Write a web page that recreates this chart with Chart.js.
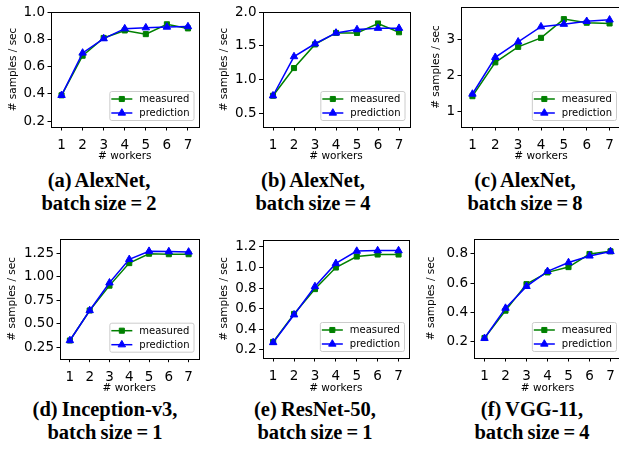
<!DOCTYPE html>
<html>
<head>
<meta charset="utf-8">
<title>Throughput vs workers</title>
<script src="https://cdn.jsdelivr.net/npm/chart.js@4.4.0/dist/chart.umd.min.js"></script>
<style>
  html, body { margin: 0; padding: 0; background: #fff; }
  body { width: 619px; height: 455px; position: relative; overflow: hidden; }
  canvas { position: absolute; }
  .caption {
    position: absolute; width: 230px; text-align: center;
    font-family: "Liberation Serif", "DejaVu Serif", serif; font-weight: bold;
    font-size: 20.5px; line-height: 23px; word-spacing: -1px; color: #000;
  }
</style>
</head>
<body>
<div class="caption" style="left:-16px; top:169px">(a) AlexNet,<br>batch size = 2</div>
<div class="caption" style="left:198px; top:169px">(b) AlexNet,<br>batch size = 4</div>
<div class="caption" style="left:410px; top:169px">(c) AlexNet,<br>batch size = 8</div>
<div class="caption" style="left:-10px; top:398px">(d) Inception-v3,<br>batch size = 1</div>
<div class="caption" style="left:200px; top:398px">(e) ResNet-50,<br>batch size = 1</div>
<div class="caption" style="left:417px; top:398px">(f) VGG-11,<br>batch size = 4</div>

<script>
// shared x values
const workers = [1, 2, 3, 4, 5, 6, 7];

// (a) AlexNet, batch size 2
const alexnet2Measured   = [0.39, 0.68, 0.81, 0.865, 0.838, 0.91, 0.88];
const alexnet2Prediction = [0.39, 0.70, 0.805, 0.878, 0.885, 0.89, 0.893];
const alexnet2Ticks      = ["0.2", "0.4", "0.6", "0.8", "1.0"];

// (b) AlexNet, batch size 4
const alexnet4Measured   = [0.76, 1.17, 1.52, 1.69, 1.69, 1.83, 1.70];
const alexnet4Prediction = [0.76, 1.34, 1.53, 1.69, 1.74, 1.76, 1.76];
const alexnet4Ticks      = ["0.5", "1.0", "1.5", "2.0"];

// (c) AlexNet, batch size 8
const alexnet8Measured   = [1.42, 2.36, 2.79, 3.04, 3.56, 3.46, 3.44];
const alexnet8Prediction = [1.48, 2.50, 2.93, 3.35, 3.42, 3.50, 3.54];
const alexnet8Ticks      = ["1", "2", "3"];

// (d) Inception-v3, batch size 1
const inceptionMeasured   = [0.32, 0.64, 0.905, 1.145, 1.245, 1.24, 1.24];
const inceptionPrediction = [0.32, 0.64, 0.935, 1.185, 1.272, 1.268, 1.264];
const inceptionTicks      = ["0.25", "0.50", "0.75", "1.00", "1.25"];

// (e) ResNet-50, batch size 1
const resnetMeasured   = [0.275, 0.548, 0.79, 1.0, 1.107, 1.127, 1.127];
const resnetPrediction = [0.27, 0.54, 0.815, 1.04, 1.16, 1.165, 1.165];
const resnetTicks      = ["0.2", "0.4", "0.6", "0.8", "1.0", "1.2"];

// (f) VGG-11, batch size 4
const vggMeasured   = [0.227, 0.413, 0.593, 0.673, 0.709, 0.798, 0.816];
const vggPrediction = [0.225, 0.43, 0.578, 0.68, 0.74, 0.785, 0.815];
const vggTicks      = ["0.2", "0.4", "0.6", "0.8"];

// canvas box [x, y, w, h] and plot area [left, top, right, bottom], page px
const panels = [
  { m: alexnet2Measured, p: alexnet2Prediction, ticks: alexnet2Ticks, y: [0.158, 1.0], x: [0.5, 7.5],
    box: [0, -6, 205, 169], plot: [51, 12, 198.5, 127], ylab: 13 },
  { m: alexnet4Measured, p: alexnet4Prediction, ticks: alexnet4Ticks, y: [0.297, 2.0], x: [0.5, 7.5],
    box: [205, -6, 210, 169], plot: [262.5, 12, 409.5, 127], ylab: 19.3 },
  { m: alexnet8Measured, p: alexnet8Prediction, ticks: alexnet8Ticks, y: [0.564, 3.897], x: [0.5, 7.5],
    box: [415, -6, 215, 169], plot: [461, 7, 621, 127], ylab: 21.7 },
  { m: inceptionMeasured, p: inceptionPrediction, ticks: inceptionTicks, y: [0.126, 1.402], x: [0.5, 7.5],
    box: [0, 222, 205, 173], plot: [60, 239, 198.5, 358.7], ylab: 12.7 },
  { m: resnetMeasured, p: resnetPrediction, ticks: resnetTicks, y: [0.119, 1.271], x: [0.5, 7.5],
    box: [205, 222, 210, 173], plot: [262.7, 239.7, 409, 358], ylab: 19.3 },
  { m: vggMeasured, p: vggPrediction, ticks: vggTicks, y: [0.091, 0.902], x: [0.5, 7.5],
    box: [410, 222, 220, 173], plot: [474, 238.7, 621, 358], ylab: 21.7 },
];

const FONT = '"DejaVu Sans", sans-serif';

// matplotlib-like frame plus a legend sitting inside the lower right corner
const frameAndLegend = {
  id: 'frameAndLegend',
  afterDatasetsDraw(chart) {
    const { ctx, chartArea: a } = chart;
    ctx.save();
    ctx.strokeStyle = '#000';
    ctx.lineWidth = 1;
    ctx.strokeRect(Math.round(a.left) + 0.5, Math.round(a.top) + 0.5,
                   Math.round(a.right - a.left), Math.round(a.bottom - a.top));

    ctx.font = '10px ' + FONT;
    const sets = chart.data.datasets;
    const textW = Math.max(...sets.map(d => ctx.measureText(d.label).width));
    const w = 30 + textW + 4, h = 29;
    const x = a.right - 5 - w, y = a.bottom - 7 - h;
    ctx.beginPath();
    if (ctx.roundRect) ctx.roundRect(x + 0.5, y + 0.5, w, h, 2); else ctx.rect(x + 0.5, y + 0.5, w, h);
    ctx.fillStyle = 'rgba(255,255,255,0.8)';
    ctx.fill();
    ctx.strokeStyle = '#cccccc';
    ctx.stroke();

    sets.forEach((d, i) => {
      const cy = y + 8 + i * 14;
      ctx.strokeStyle = d.borderColor;
      ctx.lineWidth = d.borderWidth;
      ctx.beginPath();
      ctx.moveTo(x + 2, cy);
      ctx.lineTo(x + 23, cy);
      ctx.stroke();
      ctx.fillStyle = d.pointBackgroundColor;
      ctx.lineWidth = 1;
      Chart.helpers.drawPoint(ctx, { pointStyle: d.pointStyle, radius: d.pointRadius, borderWidth: 1, rotation: 0 }, x + 12.5, cy);
      ctx.fillStyle = '#000';
      ctx.textBaseline = 'middle';
      ctx.textAlign = 'left';
      ctx.fillText(d.label, x + 30, cy + 0.5);
    });
    ctx.restore();
  }
};

panels.forEach(pn => {
  const [bx, by, bw, bh] = pn.box;
  const [pl, pt, pr, pb] = pn.plot;
  const cv = document.createElement('canvas');
  cv.width = bw;
  cv.height = bh;
  cv.style.left = bx + 'px';
  cv.style.top = by + 'px';
  document.body.appendChild(cv);

  const tickVals = pn.ticks.map(Number);

  new Chart(cv, {
    type: 'line',
    data: {
      datasets: [
        {
          label: 'measured',
          data: workers.map((w, i) => ({ x: w, y: pn.m[i] })),
          borderColor: '#008000',
          backgroundColor: '#008000',
          pointBackgroundColor: '#008000',
          pointBorderColor: '#008000',
          borderWidth: 1.5,
          pointStyle: 'rect',
          pointRadius: 3.6,
          pointBorderWidth: 1,
          order: 1,
        },
        {
          label: 'prediction',
          data: workers.map((w, i) => ({ x: w, y: pn.p[i] })),
          borderColor: '#0000ff',
          backgroundColor: '#0000ff',
          pointBackgroundColor: '#0000ff',
          pointBorderColor: '#0000ff',
          borderWidth: 1.5,
          pointStyle: 'triangle',
          pointRadius: 4.3,
          pointBorderWidth: 1,
          order: 0,
        },
      ],
    },
    options: {
      responsive: false,
      animation: false,
      devicePixelRatio: 1,
      layout: { padding: { top: pt - by, right: bx + bw - pr, left: 0, bottom: 0 } },
      plugins: { legend: { display: false }, tooltip: { enabled: false } },
      scales: {
        x: {
          type: 'linear',
          min: pn.x[0],
          max: pn.x[1],
          afterBuildTicks: s => { s.ticks = workers.map(v => ({ value: v })); },
          afterFit: s => { s.height = by + bh - pb; },
          border: { display: false },
          grid: { drawOnChartArea: false, tickLength: 3.5, tickColor: '#000', tickWidth: 1 },
          ticks: { autoSkip: false, maxRotation: 0, padding: 7, color: '#000',
                   font: { family: FONT, size: 13.5 }, callback: v => String(v) },
          title: { display: true, text: '# workers', color: '#000',
                   font: { family: FONT, size: 10.5 }, padding: { top: 0, bottom: 0 } },
        },
        y: {
          min: pn.y[0],
          max: pn.y[1],
          afterBuildTicks: s => { s.ticks = tickVals.map(v => ({ value: v })); },
          afterFit: s => { s.width = pl - bx; },
          border: { display: false },
          grid: { drawOnChartArea: false, tickLength: 3.5, tickColor: '#000', tickWidth: 1 },
          ticks: { padding: 2.5, color: '#000', font: { family: FONT, size: 13.5 },
                   callback: (v, i) => pn.ticks[i] },
          title: { display: true, text: '# samples / sec', color: '#000',
                   font: { family: FONT, size: 10.5 }, padding: { top: pn.ylab - 6.3, bottom: 0 } },
        },
      },
    },
    plugins: [frameAndLegend],
  });
});
</script>
</body>
</html>
